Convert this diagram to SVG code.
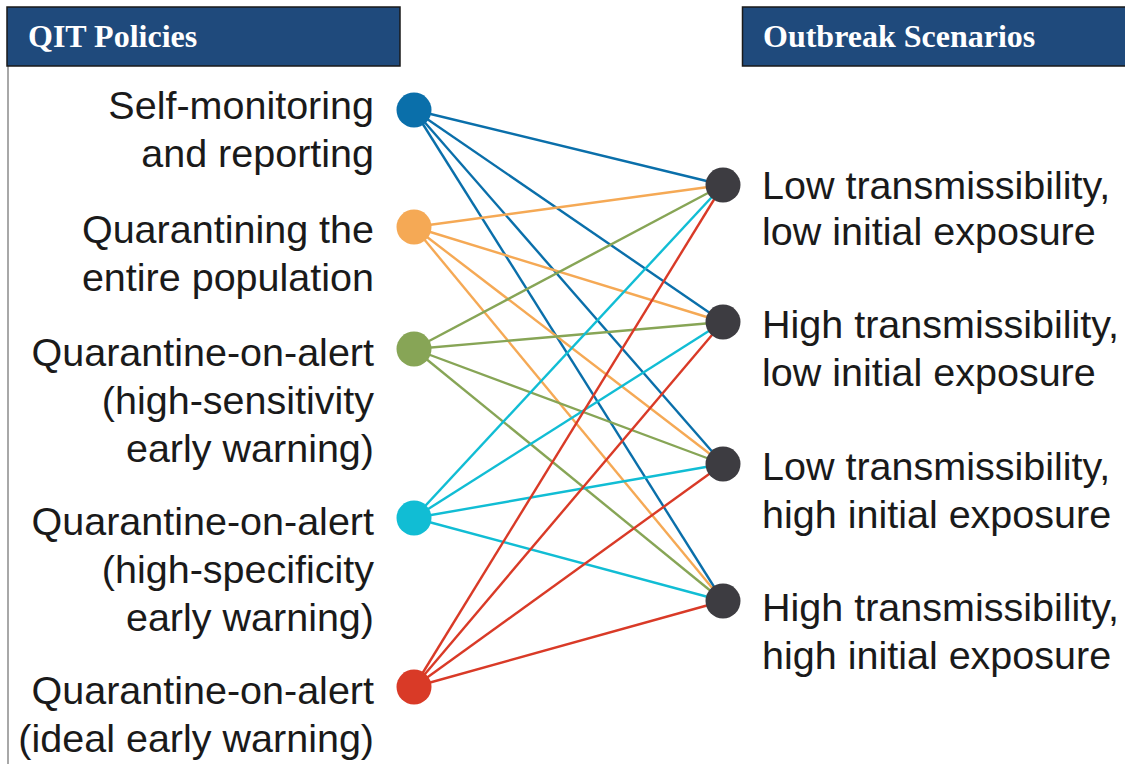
<svg xmlns="http://www.w3.org/2000/svg" width="1125" height="764" viewBox="0 0 1125 764">
<style>
.hdr{fill:#1F4A7C;stroke:#1a1a1a;stroke-width:1.5}
.htxt{font-family:"Liberation Serif","Times New Roman",serif;font-weight:bold;font-size:32px;fill:#ffffff}
.lbl{font-family:"Liberation Sans",Arial,sans-serif;font-size:39.5px;fill:#1a1a1a}
.lt{text-anchor:end}
.c line{stroke-width:2.4;fill:none}
.b{stroke:#0A6FAA}.o{stroke:#F5A955}.g{stroke:#87A556}.cy{stroke:#11BDD4}.r{stroke:#D93A27}
.sc{fill:#3D3C41}
</style>
<rect x="0" y="0" width="1125" height="764" fill="#ffffff"/>
<line x1="8" y1="66" x2="8" y2="764" stroke="#a8a8a8" stroke-width="2"/>
<g id="header-policies">
<rect class="hdr" x="7" y="7" width="393" height="59"/>
<text class="htxt" x="28" y="47">QIT Policies</text>
</g>
<g id="header-scenarios">
<rect class="hdr" x="742.5" y="7" width="390" height="59"/>
<text class="htxt" x="763" y="47">Outbreak Scenarios</text>
</g>
<g id="connectors" class="c">
<line class="b" x1="414" y1="110" x2="723" y2="185"/>
<line class="b" x1="414" y1="110" x2="723" y2="322"/>
<line class="b" x1="414" y1="110" x2="723" y2="464"/>
<line class="b" x1="414" y1="110" x2="723" y2="601"/>
<line class="o" x1="414" y1="227" x2="723" y2="185"/>
<line class="o" x1="414" y1="227" x2="723" y2="322"/>
<line class="o" x1="414" y1="227" x2="723" y2="464"/>
<line class="o" x1="414" y1="227" x2="723" y2="601"/>
<line class="g" x1="414" y1="349" x2="723" y2="185"/>
<line class="g" x1="414" y1="349" x2="723" y2="322"/>
<line class="g" x1="414" y1="349" x2="723" y2="464"/>
<line class="g" x1="414" y1="349" x2="723" y2="601"/>
<line class="cy" x1="414" y1="518" x2="723" y2="185"/>
<line class="cy" x1="414" y1="518" x2="723" y2="322"/>
<line class="cy" x1="414" y1="518" x2="723" y2="464"/>
<line class="cy" x1="414" y1="518" x2="723" y2="601"/>
<line class="r" x1="414" y1="687" x2="723" y2="185"/>
<line class="r" x1="414" y1="687" x2="723" y2="322"/>
<line class="r" x1="414" y1="687" x2="723" y2="464"/>
<line class="r" x1="414" y1="687" x2="723" y2="601"/>
</g>
<g id="policy-self">
<circle cx="414" cy="110" r="17.5" fill="#0A6FAA"/>
<text class="lbl lt" x="374" y="119">Self-monitoring</text>
<text class="lbl lt" x="374" y="167">and reporting</text>
</g>
<g id="policy-quarantine-all">
<circle cx="414" cy="227" r="17.5" fill="#F5A955"/>
<text class="lbl lt" x="374" y="243">Quarantining the</text>
<text class="lbl lt" x="374" y="291">entire population</text>
</g>
<g id="policy-qoa-sens">
<circle cx="414" cy="349" r="17.5" fill="#87A556"/>
<text class="lbl lt" x="374" y="366">Quarantine-on-alert</text>
<text class="lbl lt" x="374" y="414">(high-sensitivity</text>
<text class="lbl lt" x="374" y="462">early warning)</text>
</g>
<g id="policy-qoa-spec">
<circle cx="414" cy="518" r="17.5" fill="#11BDD4"/>
<text class="lbl lt" x="374" y="535">Quarantine-on-alert</text>
<text class="lbl lt" x="374" y="583">(high-specificity</text>
<text class="lbl lt" x="374" y="631">early warning)</text>
</g>
<g id="policy-qoa-ideal">
<circle cx="414" cy="687" r="17.5" fill="#D93A27"/>
<text class="lbl lt" x="374" y="704">Quarantine-on-alert</text>
<text class="lbl lt" x="374" y="752">(ideal early warning)</text>
</g>
<g id="scenario-1">
<circle class="sc" cx="723" cy="185" r="17.5"/>
<text class="lbl" x="762" y="199">Low transmissibility,</text>
<text class="lbl" x="762" y="245">low initial exposure</text>
</g>
<g id="scenario-2">
<circle class="sc" cx="723" cy="322" r="17.5"/>
<text class="lbl" x="762" y="338">High transmissibility,</text>
<text class="lbl" x="762" y="386">low initial exposure</text>
</g>
<g id="scenario-3">
<circle class="sc" cx="723" cy="464" r="17.5"/>
<text class="lbl" x="762" y="480">Low transmissibility,</text>
<text class="lbl" x="762" y="528">high initial exposure</text>
</g>
<g id="scenario-4">
<circle class="sc" cx="723" cy="601" r="17.5"/>
<text class="lbl" x="762" y="621">High transmissibility,</text>
<text class="lbl" x="762" y="669">high initial exposure</text>
</g>
</svg>
